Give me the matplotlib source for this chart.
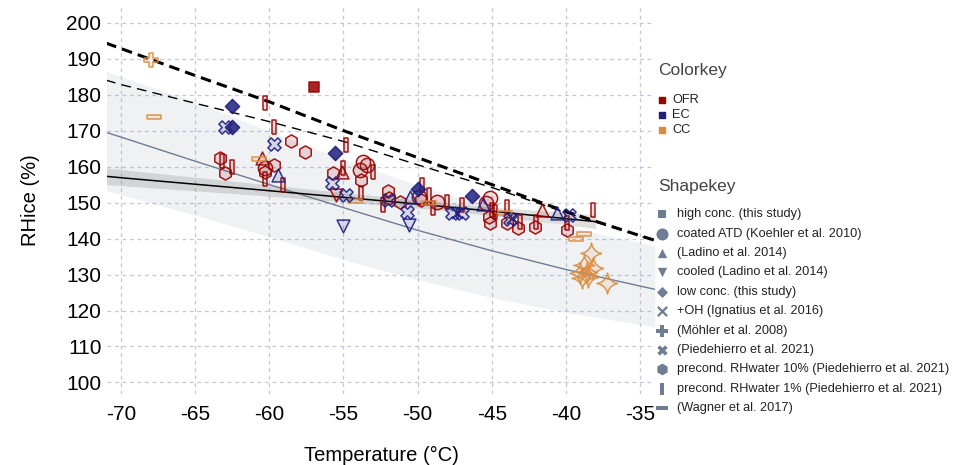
import numpy as np
import matplotlib
matplotlib.use('Agg')
import matplotlib.pyplot as plt
from matplotlib.colors import to_rgba

plt.rcParams['font.family'] = ['Liberation Sans', 'DejaVu Sans']
plt.rcParams['axes.unicode_minus'] = False

# fitted curves
sat_t = [-71, -70, -65, -60, -55, -50, -45, -40, -35, -34]
sat_rh = [194.3, 192.8, 185.3, 178.0, 170.0, 162.5, 155.0, 147.5, 140.8, 139.5]
hom_t = [-71, -70, -65, -60, -55, -50, -45, -40, -35, -34]
hom_rh = [184.0, 182.8, 177.6, 172.5, 167.0, 160.5, 154.2, 147.2, 140.7, 139.4]

fit_t = [-71, -70, -65, -60, -55, -50, -45, -40, -35, -34]
fit_rh = [169.5, 168.2, 161.5, 155.0, 148.6, 142.3, 136.6, 131.4, 126.8, 125.9]
pred_hi = [186.5, 185.0, 178.0, 169.8, 162.0, 154.8, 148.6, 143.3, 138.9, 138.0]
pred_lo = [153.3, 152.2, 146.5, 140.5, 134.1, 128.6, 123.6, 119.5, 116.1, 115.4]

lin_t = [-71, -70, -60, -50, -45, -38]
lin_rh = [157.3, 156.9, 153.3, 149.6, 147.6, 144.7]
lin_hi = [159.6, 159.2, 154.9, 150.7, 148.8, 146.6]
lin_lo = [155.0, 154.7, 151.8, 148.5, 146.4, 142.8]

# OFR
ofr_high = [(-57.0, 182.1)]
ofr_circle = [(-60.3, 159.5), (-53.66, 161.3), (-53.4, 160.4), (-53.9, 159.0),
              (-49.9, 151.6), (-48.7, 150.2), (-45.1, 151.2), (-45.4, 149.8)]
ofr_tri_up = [(-60.5, 162.3), (-55.1, 158.6), (-41.6, 147.9)]
ofr_tri_down = [(-55.5, 152.1)]
ofr_hex = [(-63.3, 162.3), (-63.0, 158.1), (-59.7, 160.4), (-60.3, 158.6), (-58.5, 167.2),
           (-57.6, 164.0), (-55.7, 158.1), (-53.8, 156.3), (-52.0, 153.2), (-51.9, 151.2),
           (-51.2, 150.2), (-49.8, 150.7), (-45.1, 144.2), (-45.2, 146.0), (-44.0, 144.2),
           (-43.2, 142.8), (-42.1, 143.3), (-39.9, 142.4)]
ofr_rect = [(-60.3, 177.7), (-59.7, 171.0), (-54.85, 166.0), (-63.2, 161.5), (-62.5, 160.0),
            (-60.3, 156.5), (-59.05, 154.9), (-55.05, 159.5), (-53.0, 158.6), (-53.8, 152.6),
            (-52.35, 149.3), (-49.7, 154.9), (-49.2, 152.1), (-48.95, 148.4), (-48.0, 150.2),
            (-47.0, 149.3), (-45.0, 147.9), (-44.8, 147.4), (-44.0, 148.8), (-43.1, 144.7),
            (-42.0, 144.7), (-39.9, 144.2), (-38.15, 147.9)]

# EC
ec_low = [(-62.5, 176.8), (-62.5, 170.9), (-55.6, 163.8), (-50.0, 153.8), (-46.3, 151.9)]
ec_x = [(-63.0, 170.9), (-59.7, 166.4), (-55.8, 155.3), (-54.8, 152.1), (-52.0, 150.7),
        (-50.7, 147.4), (-47.7, 147.1), (-47.0, 147.1), (-43.8, 145.3), (-39.8, 146.5)]
ec_xthin = [(-47.35, 147.1), (-43.6, 145.6)]
ec_tri_up = [(-59.4, 157.6), (-50.5, 151.6), (-45.6, 149.6), (-40.6, 147.0)]
ec_tri_down = [(-55.0, 143.5), (-50.6, 143.75)]

# CC
cc_plus = [(-68.0, 189.7)]
cc_hrect = [(-67.8, 173.8), (-60.7, 162.0), (-54.2, 150.4), (-49.2, 150.0), (-44.1, 147.0),
            (-38.8, 141.4), (-39.3, 140.0)]
cc_star = [(-38.3, 135.9), (-38.8, 132.6), (-38.15, 131.7), (-39.05, 130.3), (-38.6, 130.8),
           (-38.9, 128.9), (-38.5, 129.4), (-37.25, 127.6)]

color_names = ['OFR', 'EC', 'CC']
shape_names = ['high conc. (this study)', 'coated ATD (Koehler et al. 2010)',
               '(Ladino et al. 2014)', 'cooled (Ladino et al. 2014)',
               'low conc. (this study)', '+OH (Ignatius et al. 2016)',
               '(Möhler et al. 2008)', '(Piedehierro et al. 2021)',
               'precond. RHwater 10% (Piedehierro et al. 2021)',
               'precond. RHwater 1% (Piedehierro et al. 2021)', '(Wagner et al. 2017)']

red = '#990000'
navy = '#1f1f80'
orange = '#db8b3e'
slate = '#6e7d93'

vrect = [(-0.32, -1), (0.32, -1), (0.32, 1), (-0.32, 1), (-0.32, -1)]
hrect = [(-1, -0.32), (1, -0.32), (1, 0.32), (-1, 0.32), (-1, -0.32)]

# 4-point star with concave sides (superellipse-like curve)
ang = np.linspace(0, 2 * np.pi, 121)
star4 = [(np.sign(np.cos(t)) * abs(np.cos(t)) ** 3.2, np.sign(np.sin(t)) * abs(np.sin(t)) ** 3.2)
         for t in ang]

W, H = 959, 465
fig = plt.figure(figsize=(W / 100, H / 100), dpi=100)
ax = fig.add_axes([107 / W, 1 - 394 / H, (655 - 107) / W, (394 - 5) / H])

ax.fill_between(fit_t, pred_lo, pred_hi, color='#8a96a8', alpha=0.13, lw=0, zorder=1)
ax.fill_between(lin_t, lin_lo, lin_hi, color='#808080', alpha=0.25, lw=0, zorder=1)
ax.plot(fit_t, fit_rh, color=slate, lw=1.0, zorder=2)
ax.plot(lin_t, lin_rh, color='black', lw=1.1, zorder=2)
ax.plot(hom_t, hom_rh, color='black', lw=1.0, dashes=(7, 4.5), zorder=2)
ax.plot(sat_t, sat_rh, color='black', lw=2.2, dashes=(3.5, 2), zorder=2)


def pts(ax, data, color, marker, s, filled=False, lw=1.1):
    x = [p[0] for p in data]
    y = [p[1] for p in data]
    if marker == 'x':
        ax.scatter(x, y, marker='x', s=s, color=to_rgba(color, 0.9), linewidths=1.4, zorder=3)
        return
    fc = to_rgba(color, 0.85 if filled else 0.12)
    ax.scatter(x, y, marker=marker, s=s, facecolors=fc, edgecolors=to_rgba(color, 0.9),
               linewidths=lw, zorder=3)


pts(ax, ofr_hex, red, 'h', 90)
pts(ax, ofr_circle, red, 'o', 105)
pts(ax, ofr_rect, red, vrect, 105)
pts(ax, ofr_tri_up, red, '^', 85)
pts(ax, ofr_tri_down, red, 'v', 85)
pts(ax, ofr_high, red, 's', 58, filled=True)
pts(ax, cc_hrect, orange, hrect, 115)
pts(ax, cc_plus, orange, 'P', 100)
pts(ax, cc_star, orange, star4, 230)
pts(ax, ec_x, navy, 'X', 90)
pts(ax, ec_xthin, navy, 'x', 60)
pts(ax, ec_tri_up, navy, '^', 85)
pts(ax, ec_tri_down, navy, 'v', 85)
pts(ax, ec_low, navy, 'D', 52, filled=True)

ax.set_xlim(-70.94, -33.99)
ax.set_ylim(96.8, 204.9)
ax.set_xticks(range(-70, -34, 5))
ax.set_yticks(range(100, 201, 10))
ax.tick_params(length=0, labelsize=15, pad=8)
ax.tick_params(axis='y', pad=4)
ax.grid(color='#c5c6da', linestyle=(0, (3, 3)), linewidth=0.9, zorder=0)
ax.set_axisbelow(True)
for sp in ax.spines.values():
    sp.set_visible(False)

fig.text(381 / W, 1 - 455 / H, 'Temperature (°C)', ha='center', va='center', fontsize=14.5)
fig.text(30 / W, 1 - 200 / H, 'RHice (%)', ha='center', va='center', rotation=90, fontsize=14.5)

# legends drawn in pixel coordinates
lax = fig.add_axes([0, 0, 1, 1])
lax.set_xlim(0, W)
lax.set_ylim(H, 0)
lax.axis('off')
lax.patch.set_alpha(0)

lax.text(658, 71, 'Colorkey', fontsize=12.5, color='#444444', va='center')
for i, (name, c) in enumerate(zip(color_names, [red, navy, orange])):
    yy = 100 + i * 15
    lax.scatter([662], [yy], marker='s', s=22, color=c)
    lax.text(672, yy, name, fontsize=9.2, color='#222222', va='center')

lax.text(658, 186, 'Shapekey', fontsize=12.5, color='#444444', va='center')
leg_markers = [('s', 40), ('o', 75), ('^', 45), ('v', 45), ('D', 32), ('x', 45),
               ('P', 65), ('X', 55), ('h', 72), (vrect, 85), (hrect, 85)]
for i, (name, (m, s)) in enumerate(zip(shape_names, leg_markers)):
    yy = 214.3 + i * 19.37
    if m == 'x':
        lax.scatter([662], [yy], marker='x', s=s, color=slate, linewidths=1.6)
    else:
        lax.scatter([662], [yy], marker=m, s=s, color=slate, linewidths=0)
    lax.text(677, yy, name, fontsize=9.2, color='#222222', va='center')

fig.savefig('out.png', dpi=100)
